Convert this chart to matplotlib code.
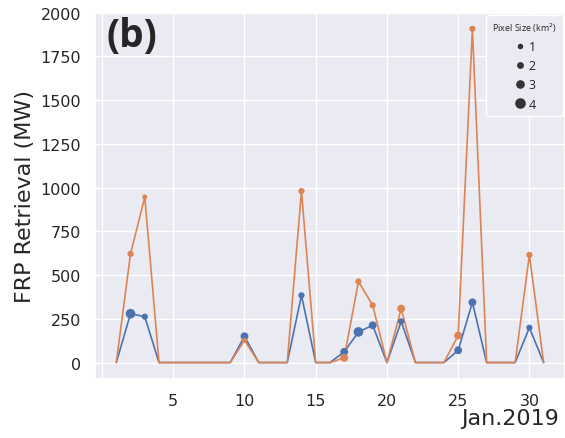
import numpy as np
import matplotlib.pyplot as plt
import seaborn as sns
from matplotlib.lines import Line2D

sns.set_theme(style="darkgrid")

days = list(range(1, 32))
# FRP retrieval (MW) for each day of Jan 2019
blue_frp = [0, 279, 262, 0, 0, 0, 0, 0, 0, 150, 0, 0, 0, 384, 0, 0,
            61, 175, 213, 0, 235, 0, 0, 0, 70, 344, 0, 0, 0, 199, 0]
orange_frp = [0, 621, 946, 0, 0, 0, 0, 0, 0, 127, 0, 0, 0, 980, 0, 0,
              27, 463, 327, 0, 308, 0, 0, 0, 154, 1907, 0, 0, 0, 615, 0]
# pixel size class (km^2) for each retrieval, 0 = no retrieval
blue_pix = [0, 4, 2, 0, 0, 0, 0, 0, 0, 3, 0, 0, 0, 2, 0, 0,
            3, 4, 3, 0, 2, 0, 0, 0, 3, 3, 0, 0, 0, 2, 0]
orange_pix = [0, 2, 1, 0, 0, 0, 0, 0, 0, 1, 0, 0, 0, 2, 0, 0,
              3, 2, 2, 0, 3, 0, 0, 0, 3, 2, 0, 0, 0, 2, 0]
pix_levels = [1, 2, 3, 4]
xtick_vals = [0, 5, 10, 15, 20, 25, 30]
xtick_labels = ["", "5", "10", "15", "20", "25", "30"]

size_map = {1: 13, 2: 20, 3: 32, 4: 48}
blue_c = "#4C72B0"
orange_c = "#DD8452"

fig = plt.figure(figsize=(5.65, 4.39), dpi=100)
ax = fig.add_axes([0.168, 0.134, 0.832, 0.836])

d = np.array(days)
for vals, pix, col in [(blue_frp, blue_pix, blue_c), (orange_frp, orange_pix, orange_c)]:
    vals = np.array(vals)
    pix = np.array(pix)
    ax.plot(d, vals, color=col, lw=1.2, zorder=2)
    m = pix > 0
    ax.scatter(d[m], vals[m], s=[size_map[p] for p in pix[m]], color=col,
               linewidths=0, zorder=3)

ax.set_xlim(-0.5, 32.5)
ax.set_ylim(-95, 2002)
ax.set_xticks(xtick_vals)
ax.set_xticklabels(xtick_labels)
ax.tick_params(labelsize=11.5, pad=4)
ax.set_ylabel("FRP Retrieval (MW)", fontsize=16)
ax.set_xlabel("Jan.2019", fontsize=16, loc="right", labelpad=0)
ax.xaxis.label.set_x(0.988)

ax.text(0.025, 0.99, "(b)", transform=ax.transAxes, fontsize=28,
        fontweight="bold", family="Open Sans", va="top", ha="left")

handles = [Line2D([], [], ls="", marker="o", color="#333333",
                  markersize=np.sqrt(size_map[p]) * 1.1, markeredgewidth=0)
           for p in pix_levels]
leg = ax.legend(handles, [str(p) for p in pix_levels], title="Pixel Size (km$^2$)",
                loc="upper right", prop={"family": "Open Sans", "size": 9},
                title_fontproperties={"family": "Open Sans", "size": 6.5},
                handletextpad=0.1, labelspacing=0.5, borderaxespad=0.2,
                handlelength=1.2, borderpad=0.45,
                facecolor="#EAEAF2", edgecolor="white", framealpha=1)

fig.savefig("out.png", dpi=100)
